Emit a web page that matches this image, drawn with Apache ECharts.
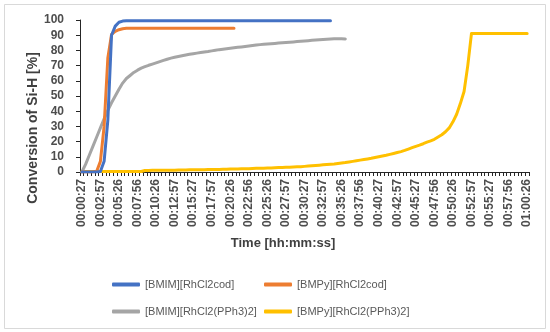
<!DOCTYPE html>
<html>
<head>
<meta charset="utf-8">
<script src="https://cdn.jsdelivr.net/npm/echarts@6/dist/echarts.min.js"></script>
<style>html,body{margin:0;padding:0;background:#fff}#c{width:550px;height:332px}</style>
</head>
<body>
<div id="c"></div>
<script>
// Tick labels every 5th category (categories every ~30 s)
var tickLabels = ['00:00:27','00:02:57','00:05:26','00:07:56','00:10:26','00:12:57','00:15:27','00:17:57','00:20:26','00:22:56','00:25:26','00:27:57','00:30:27','00:32:57','00:35:26','00:37:56','00:40:27','00:42:57','00:45:27','00:47:56','00:50:26','00:52:57','00:55:27','00:57:56','01:00:26'];

var seriesNames = ['[BMIM][RhCl2cod]','[BMPy][RhCl2cod]','[BMIM][RhCl2(PPh3)2]','[BMPy][RhCl2(PPh3)2]'];

var bmimCod = [0,0,0,0,0,0.3,7,34,90,96,98.5,99.3,
  99.5,99.5,99.5,99.5,99.5,99.5,99.5,99.5,99.5,99.5,99.5,99.5,99.5,99.5,99.5,99.5,99.5,99.5,99.5,99.5,99.5,99.5,99.5,99.5,99.5,99.5,99.5,99.5,99.5,99.5,99.5,99.5,99.5,99.5,99.5,99.5,99.5,99.5,99.5,99.5,99.5,99.5,99.5,99.5,99.5,99.5,99.5,99.5,99.5,99.5,99.5,99.5,99.5,99.5,99.5,99.5];

var bmpyCod = [0,0,0,0,0.5,7,30,75,90.5,92.5,93.6,94.2,
  94.5,94.5,94.5,94.5,94.5,94.5,94.5,94.5,94.5,94.5,94.5,94.5,94.5,94.5,94.5,94.5,94.5,94.5,94.5,94.5,94.5,94.5,94.5,94.5,94.5,94.5,94.5,94.5,94.5,94.5];

var bmimPPh3 = [0,5,11,17,23,29,35,40.5,45.5,50,54.5,58.5,61.5,63.5,65.5,67,68.3,69.3,70.2,71,71.8,72.6,73.4,74.2,74.9,75.5,76,76.5,77,77.4,77.8,78.2,78.6,79,79.3,79.7,80.1,80.5,80.8,81.1,81.4,81.7,82,82.3,82.6,82.9,83.2,83.5,83.8,84,84.2,84.4,84.6,84.8,85,85.2,85.4,85.6,85.8,86,86.2,86.4,86.6,86.8,87,87.2,87.4,87.5,87.6,87.6,87.6,87.5];

var bmpyPPh3 = [0.3,0.3,0.3,0.3,0.3,0.3,0.3,0.3,0.3,0.3,0.3,0.3,0.3,0.3,0.3,0.3,0.3,
  1.0,1.0,1.1,1.1,1.1,1.2,1.2,1.2,1.2,1.3,1.3,1.3,1.4,1.4,1.4,1.5,1.5,1.6,1.6,1.7,1.7,1.8,1.8,1.9,2.0,2.0,2.1,2.2,2.2,2.3,2.4,2.5,2.5,2.6,2.7,2.8,2.9,3.0,3.1,3.2,3.3,3.4,3.5,3.7,3.9,4.1,4.3,4.5,4.7,4.9,5.1,5.3,5.6,5.9,6.2,6.6,7.0,7.4,7.8,8.2,8.6,9.0,9.5,10.0,10.5,11.0,11.6,12.2,12.8,13.4,14.2,15.1,16.0,16.9,17.7,18.6,19.6,20.5,21.5,23.0,24.5,26.5,29,33,38,45,53,70,
  91.2,91.2,91.2,91.2,91.2,91.2,91.2,91.2,91.2,91.2,91.2,91.2,91.2,91.2,91.2,91.2];

var colors = ['#4472C4','#ED7D31','#A5A5A5','#FFC000'];

// Build category list: labelled points plus the 30 s steps between them
function toSec(s){var p=s.split(':');return (+p[0])*3600+(+p[1])*60+(+p[2]);}
function fmt(t){function z(n){return (n<10?'0':'')+n;}return z(Math.floor(t/3600))+':'+z(Math.floor(t%3600/60))+':'+z(t%60);}
var categories = [];
tickLabels.forEach(function(t,k){
  categories.push(t);
  if(k<tickLabels.length-1){var b=toSec(t);for(var j=1;j<5;j++)categories.push(fmt(b+30*j));}
});

var font = '"Liberation Sans", Arial, sans-serif';
var chart = echarts.init(document.getElementById('c'), null, {renderer:'canvas'});
var allData = [bmimCod,bmpyCod,bmimPPh3,bmpyPPh3];
var legendPos = [[112,279],[264,279],[112,306],[264,306]];
chart.setOption({
  animation:false,
  backgroundColor:'#fff',
  grid:{left:80,right:21,top:20,bottom:160,containLabel:false},
  xAxis:{
    type:'category', data:categories, boundaryGap:true,
    axisLine:{lineStyle:{color:'#262626',width:1}},
    axisTick:{show:true,interval:0,length:4,lineStyle:{color:'#262626'}},
    axisLabel:{interval:4,rotate:90,margin:7,fontSize:12,fontWeight:'bold',color:'#4d4d4d',fontFamily:font}
  },
  yAxis:{
    type:'value', min:0, max:100, interval:10,
    axisLine:{show:true,lineStyle:{color:'#262626',width:1}},
    axisTick:{show:true,length:4,lineStyle:{color:'#262626'}},
    axisLabel:{margin:16,fontSize:12,fontWeight:'bold',color:'#4d4d4d',fontFamily:font},
    splitLine:{show:false}
  },
  legend: seriesNames.map(function(n,i){
    return {data:[n],left:legendPos[i][0],top:legendPos[i][1],icon:'roundRect',itemWidth:28,itemHeight:4,itemGap:0,padding:0,
      textStyle:{fontSize:11,color:'#595959',fontFamily:font}};
  }),
  series: seriesNames.map(function(n,i){
    return {name:n,type:'line',data:allData[i],showSymbol:false,symbol:'none',
      lineStyle:{width:3,color:colors[i],cap:'round',join:'round'},itemStyle:{color:colors[i]},z:10-i};
  }),
  graphic:[
    {type:'rect',shape:{x:4.5,y:4.5,width:541,height:324},style:{fill:'none',stroke:'#d9d9d9',lineWidth:1},z:-1},
    {type:'text',x:33,y:128,rotation:Math.PI/2,style:{text:'Conversion of Si-H [%]',align:'center',verticalAlign:'middle',font:'bold 14px '+font,fill:'#404040'}},
    {type:'text',x:283,y:243,style:{text:'Time [hh:mm:ss]',align:'center',verticalAlign:'middle',font:'bold 13px '+font,fill:'#404040'}}
  ]
});
</script>
</body>
</html>
